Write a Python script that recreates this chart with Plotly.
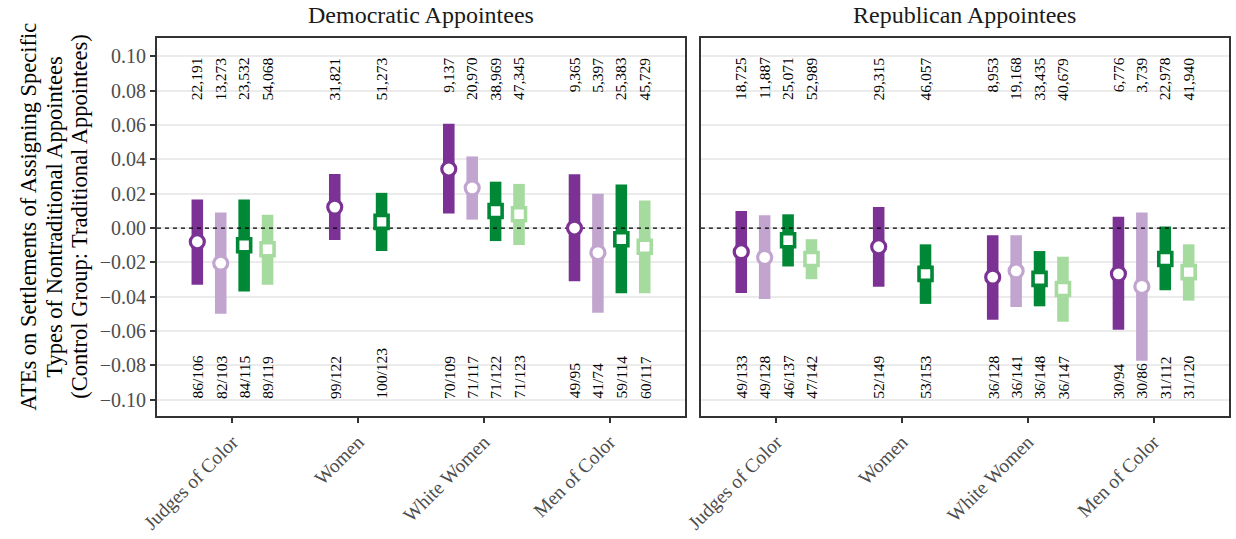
import plotly.graph_objects as go

# ---------------- data ----------------
categories = ["Judges of Color", "Women", "White Women", "Men of Color"]
panels = ["Democratic Appointees", "Republican Appointees"]
series_names = ["Dark purple", "Light purple", "Dark green", "Light green"]
series_colors = ["#7B3294", "#C2A5CF", "#008837", "#A6DBA0"]
series_symbols = ["circle", "circle", "square", "square"]

# Democratic appointees
dem_est = [[-0.008, 0.0122, 0.0344, 0.000],
           [-0.0205, None, 0.0234, -0.0143],
           [-0.010, 0.0036, 0.0099, -0.0065],
           [-0.0124, None, 0.008, -0.0109]]
dem_lo = [[-0.033, -0.007, 0.0084, -0.031],
          [-0.050, None, 0.0049, -0.0494],
          [-0.037, -0.0134, -0.0076, -0.038],
          [-0.033, None, -0.0099, -0.038]]
dem_hi = [[0.0166, 0.0315, 0.0608, 0.0313],
          [0.009, None, 0.0417, 0.0199],
          [0.0166, 0.0205, 0.027, 0.0253],
          [0.0078, None, 0.0257, 0.0161]]
dem_n = [[22191, 31821, 9137, 9365],
         [13273, None, 20970, 5397],
         [23532, 51273, 38969, 25383],
         [54068, None, 47345, 45729]]
dem_ratio = [["86/106", "99/122", "70/109", "49/95"],
             ["82/103", None, "71/117", "41/74"],
             ["84/115", "100/123", "71/122", "59/114"],
             ["89/119", None, "71/123", "60/117"]]

# Republican appointees
rep_est = [[-0.0138, -0.0109, -0.0286, -0.0267],
           [-0.0171, None, -0.025, -0.034],
           [-0.0071, -0.0267, -0.0296, -0.018],
           [-0.018, None, -0.0355, -0.0257]]
rep_lo = [[-0.0379, -0.0342, -0.0535, -0.0592],
          [-0.0413, None, -0.046, -0.0773],
          [-0.0224, -0.0442, -0.0456, -0.0363],
          [-0.0298, None, -0.0546, -0.0423]]
rep_hi = [[0.0099, 0.0122, -0.0042, 0.0065],
          [0.0074, None, -0.0042, 0.009],
          [0.008, -0.0095, -0.0134, 0.0009],
          [-0.0065, None, -0.0167, -0.0095]]
rep_n = [[18725, 29315, 8953, 6776],
         [11887, None, 19168, 3739],
         [25071, 46057, 33435, 22978],
         [52989, None, 40679, 41940]]
rep_ratio = [["49/133", "52/149", "36/128", "30/94"],
             ["49/128", None, "36/141", "30/86"],
             ["46/137", "53/153", "36/148", "31/112"],
             ["47/142", None, "36/147", "31/120"]]

y_ticks = [-0.10, -0.08, -0.06, -0.04, -0.02, 0.00, 0.02, 0.04, 0.06, 0.08, 0.10]
y_title_lines = ["ATEs on Settlements of Assigning Specific",
                 "Types of Nontraditional Appointees",
                 "(Control Group: Traditional Appointees)"]

# ---------------- styling ----------------
FONT = "Liberation Serif"
DODGE = 0.745
BAR_W = 0.092
TOP_Y = 0.10
BOT_Y = -0.10
X_RANGE = [0.4, 4.6]
Y_RANGE = [-0.1095, 0.1107]
W, H = 1236, 539
M_L, M_R, M_T, M_B = 157, 5, 38, 120

panel_data = [
    (dem_est, dem_lo, dem_hi, dem_n, dem_ratio),
    (rep_est, rep_lo, rep_hi, rep_n, rep_ratio),
]

fig = go.Figure()
annotations = []

for p, (est, lo, hi, nn, ratio) in enumerate(panel_data):
    xa = "x" if p == 0 else "x2"
    ya = "y" if p == 0 else "y2"

    # zero reference line (drawn first, under the marks)
    fig.add_trace(go.Scatter(
        x=X_RANGE, y=[0, 0], mode="lines", xaxis=xa, yaxis=ya,
        line=dict(color="black", width=1.3, dash="4px,4px"),
        hoverinfo="skip", showlegend=False))

    # dodge positions
    pos = [[None] * len(categories) for _ in series_names]
    for c in range(len(categories)):
        present = [s for s in range(len(series_names)) if est[s][c] is not None]
        n = len(present)
        for k, s in enumerate(present):
            pos[s][c] = (c + 1) + (k - (n - 1) / 2) * (DODGE / n)

    for s in range(len(series_names)):
        xs, base, ht, ys = [], [], [], []
        for c in range(len(categories)):
            if est[s][c] is None:
                continue
            xs.append(pos[s][c])
            base.append(lo[s][c])
            ht.append(hi[s][c] - lo[s][c])
            ys.append(est[s][c])
            annotations.append(dict(
                x=pos[s][c], y=TOP_Y, xref=xa, yref=ya,
                text=f"{nn[s][c]:,}", textangle=-90, showarrow=False,
                xanchor="center", yanchor="top", borderpad=0,
                font=dict(family=FONT, size=15.5, color="#000000")))
            annotations.append(dict(
                x=pos[s][c], y=BOT_Y, xref=xa, yref=ya,
                text=ratio[s][c], textangle=-90, showarrow=False,
                xanchor="center", yanchor="bottom", borderpad=0,
                font=dict(family=FONT, size=15.5, color="#000000")))
        fig.add_trace(go.Bar(
            x=xs, y=ht, base=base, width=BAR_W, xaxis=xa, yaxis=ya,
            marker=dict(color=series_colors[s], line=dict(width=0)),
            name=series_names[s], showlegend=False, hoverinfo="skip"))
        fig.add_trace(go.Scatter(
            x=xs, y=ys, mode="markers", xaxis=xa, yaxis=ya,
            marker=dict(symbol=series_symbols[s],
                        size=14 if series_symbols[s] == "circle" else 13,
                        color="white",
                        line=dict(color=series_colors[s],
                                  width=3.2 if series_symbols[s] == "circle" else 3.6)),
            name=series_names[s], showlegend=False))

    # strip title
    annotations.append(dict(
        x=0.5, y=1, xref=f"{xa} domain", yref="paper", yshift=8,
        text=panels[p], showarrow=False, xanchor="center", yanchor="bottom",
        font=dict(family=FONT, size=24, color="#1A1A1A")))

# y-axis title as three rotated lines
plot_w = W - M_L - M_R
plot_h = H - M_T - M_B
title_px_x = [28, 54, 79]
title_px_y = 218
for line, px in zip(y_title_lines, title_px_x):
    annotations.append(dict(
        x=(px - M_L) / plot_w, y=(H - M_B - title_px_y) / plot_h,
        xref="paper", yref="paper", text=line, textangle=-90,
        showarrow=False, xanchor="center", yanchor="middle", borderpad=0,
        font=dict(family=FONT, size=22.5, color="#000000")))

y_ticktext = [f"{v:.2f}".replace("-", "\u2212") for v in y_ticks]

axis_common = dict(
    range=X_RANGE, tickvals=[1, 2, 3, 4], ticktext=categories,
    tickangle=-45, ticks="outside", ticklen=5, tickwidth=2, tickcolor="#333333",
    showgrid=False, zeroline=False, showline=True, mirror=True,
    linecolor="#333333", linewidth=2,
    tickfont=dict(family=FONT, size=19.5, color="#4D4D4D"),
)
yaxis_common = dict(
    range=Y_RANGE, tickvals=y_ticks, ticktext=y_ticktext,
    showgrid=True, gridcolor="#EBEBEB", gridwidth=2, zeroline=False,
    showline=True, mirror=True, linecolor="#333333", linewidth=2,
)

fig.update_layout(
    width=W, height=H,
    margin=dict(l=M_L, r=M_R, t=M_T, b=M_B),
    paper_bgcolor="white", plot_bgcolor="white",
    barmode="overlay", showlegend=False,
    font=dict(family=FONT),
    xaxis=dict(domain=[0, 0.4926], anchor="y", **axis_common),
    xaxis2=dict(domain=[0.5074, 1], anchor="y2", **axis_common),
    yaxis=dict(anchor="x", ticks="outside", ticklen=5, tickwidth=2,
               tickcolor="#333333",
               tickfont=dict(family=FONT, size=20, color="#4D4D4D"),
               **yaxis_common),
    yaxis2=dict(anchor="x2", showticklabels=False, ticks="",
                **yaxis_common),
    annotations=annotations,
)

fig.write_html("out.html")
